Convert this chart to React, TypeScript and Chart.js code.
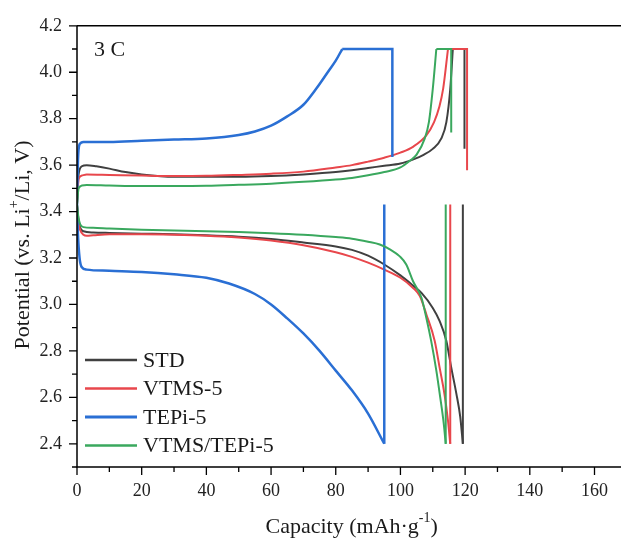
import React, { useEffect, useRef } from 'react';
import { Chart, registerables } from 'chart.js';

Chart.register(...registerables);

const FONT = '"Liberation Serif", "Times New Roman", serif';

// ---- Data (capacity in mAh/g, potential in V) ----
const stdChargeCap = [0, 0.5, 1.5, 3, 6, 10, 15, 20, 30, 40, 50, 60, 70, 80, 85, 90, 95, 100, 104, 107, 110, 112.6, 114.2, 115.4, 116.2, 119.8, 119.8];
const stdChargeV = [3.43, 3.56, 3.595, 3.6, 3.595, 3.585, 3.57, 3.56, 3.55, 3.55, 3.55, 3.553, 3.56, 3.57, 3.578, 3.588, 3.597, 3.607, 3.625, 3.643, 3.67, 3.714, 3.785, 3.928, 4.1, 4.1, 3.67];
const stdDischargeCap = [0, 0.5, 1, 2, 5, 10, 20, 30, 40, 50, 60, 70, 80, 85, 90, 95, 100, 104, 106.5, 110, 112.1, 114.2, 115.7, 117.3, 118.5, 119.3, 119.3];
const stdDischargeV = [3.43, 3.36, 3.33, 3.315, 3.31, 3.308, 3.305, 3.302, 3.298, 3.292, 3.282, 3.267, 3.25, 3.235, 3.21, 3.172, 3.125, 3.08, 3.05, 2.985, 2.929, 2.843, 2.729, 2.615, 2.515, 2.4, 3.43];

const vtmsChargeCap = [0, 0.5, 1.5, 3, 10, 20, 30, 40, 50, 60, 70, 80, 85, 90, 95, 100, 104, 108, 110.4, 112, 113.2, 114.7, 120.6, 120.6];
const vtmsChargeV = [3.43, 3.54, 3.555, 3.56, 3.558, 3.555, 3.553, 3.554, 3.558, 3.563, 3.572, 3.59, 3.6, 3.615, 3.632, 3.654, 3.68, 3.728, 3.785, 3.85, 3.928, 4.1, 4.1, 3.578];
const vtmsDischargeCap = [0, 0.5, 1, 2, 3, 5, 10, 20, 30, 40, 50, 60, 70, 80, 85, 90, 95, 100, 104, 106, 108, 110.6, 112.1, 113.6, 114.7, 115.4, 115.4];
const vtmsDischargeV = [3.43, 3.35, 3.32, 3.3, 3.296, 3.298, 3.302, 3.302, 3.3, 3.296, 3.288, 3.275, 3.255, 3.225, 3.205, 3.18, 3.15, 3.115, 3.07, 3.036, 2.958, 2.843, 2.729, 2.615, 2.5, 2.4, 3.43];

const tepiChargeCap = [0, 0.3, 0.8, 2, 10, 20, 30, 40, 50, 55, 60, 65, 70, 74, 78, 80, 82, 97.5, 97.5];
const tepiChargeV = [3.43, 3.62, 3.69, 3.7, 3.7, 3.705, 3.71, 3.715, 3.73, 3.745, 3.77, 3.81, 3.86, 3.93, 4.01, 4.05, 4.1, 4.1, 3.635];
const tepiDischargeCap = [0, 0.3, 0.8, 1.5, 3, 10, 20, 30, 40, 47, 55, 60, 65, 70, 75, 80, 85, 90, 95, 95];
const tepiDischargeV = [3.43, 3.3, 3.2, 3.16, 3.15, 3.145, 3.14, 3.13, 3.115, 3.09, 3.045, 3.0, 2.94, 2.875, 2.8, 2.715, 2.63, 2.53, 2.4, 3.43];

const mixChargeCap = [0, 0.5, 1.5, 3, 10, 20, 30, 40, 50, 60, 70, 80, 85, 90, 95, 100, 103, 105, 107.5, 108.8, 110, 111.1, 115.7, 115.7];
const mixChargeV = [3.43, 3.5, 3.512, 3.514, 3.512, 3.51, 3.51, 3.511, 3.515, 3.52, 3.528, 3.538, 3.545, 3.556, 3.57, 3.59, 3.62, 3.645, 3.714, 3.785, 3.928, 4.1, 4.1, 3.74];
const mixDischargeCap = [0, 0.5, 1, 2, 5, 10, 20, 30, 40, 50, 60, 70, 80, 85, 90, 93.6, 97, 99.8, 101.8, 103.9, 106.5, 108, 109.5, 111.1, 112.3, 113.4, 114, 114];
const mixDischargeV = [3.43, 3.37, 3.345, 3.333, 3.33, 3.327, 3.322, 3.318, 3.315, 3.312, 3.307, 3.3, 3.29, 3.283, 3.27, 3.258, 3.235, 3.207, 3.172, 3.1, 3.029, 2.943, 2.843, 2.715, 2.6, 2.486, 2.4, 3.43];

const seriesLabels = ['STD', 'VTMS-5', 'TEPi-5', 'VTMS/TEPi-5'];
const seriesCharge = [
  [stdChargeCap, stdChargeV],
  [vtmsChargeCap, vtmsChargeV],
  [tepiChargeCap, tepiChargeV],
  [mixChargeCap, mixChargeV],
];
const seriesDischarge = [
  [stdDischargeCap, stdDischargeV],
  [vtmsDischargeCap, vtmsDischargeV],
  [tepiDischargeCap, tepiDischargeV],
  [mixDischargeCap, mixDischargeV],
];
const rateLabel = '3 C';

// ---- Styles ----
const seriesColors = ['#404040', '#e8474c', '#2a6fd4', '#3aa85e'];
const seriesWidths = [2, 2, 2.5, 2];

type Seg = { t: string; sup?: boolean };

function drawRich(ctx: CanvasRenderingContext2D, segs: Seg[], cx: number, cy: number, rot: number, size: number) {
  const supSize = Math.round(size * 0.62);
  ctx.save();
  ctx.translate(cx, cy);
  ctx.rotate(rot);
  ctx.textBaseline = 'middle';
  ctx.textAlign = 'left';
  let total = 0;
  const widths = segs.map((s) => {
    ctx.font = `${s.sup ? supSize : size}px ${FONT}`;
    const w = ctx.measureText(s.t).width;
    total += w;
    return w;
  });
  let x = -total / 2;
  segs.forEach((s, i) => {
    ctx.font = `${s.sup ? supSize : size}px ${FONT}`;
    ctx.fillText(s.t, x, s.sup ? -size * 0.38 : 0);
    x += widths[i];
  });
  ctx.restore();
}

const decorPlugin = {
  id: 'decor',
  afterDraw(chart: any) {
    const ctx: CanvasRenderingContext2D = chart.ctx;
    const { left, right, top, bottom } = chart.chartArea;
    const xs = chart.scales.x;
    const ys = chart.scales.y;
    ctx.save();
    ctx.strokeStyle = '#000';
    ctx.lineWidth = 1.5;
    ctx.beginPath();
    ctx.moveTo(left, top);
    ctx.lineTo(right + 2, top);
    ctx.moveTo(left, top);
    ctx.lineTo(left, bottom);
    ctx.lineTo(right + 2, bottom);
    ctx.stroke();
    // tick marks
    ctx.lineWidth = 1.3;
    ctx.beginPath();
    xs.ticks.forEach((t: any) => {
      const px = xs.getPixelForValue(t.value);
      const major = Math.round(t.value) % 20 === 0;
      ctx.moveTo(px, bottom);
      ctx.lineTo(px, bottom + (major ? 8 : 5));
    });
    ys.ticks.forEach((t: any) => {
      const py = ys.getPixelForValue(t.value);
      const major = Math.round(t.value * 10) % 2 === 0;
      ctx.moveTo(left, py);
      ctx.lineTo(left - (major ? 8 : 5), py);
    });
    ctx.stroke();
    ctx.fillStyle = '#1a1a1a';
    // axis titles
    drawRich(ctx, [{ t: 'Capacity (mAh·g' }, { t: '-1', sup: true }, { t: ')' }], (left + right) / 2 + 3, 527, 0, 22);
    drawRich(ctx, [{ t: 'Potential (vs. Li' }, { t: '+', sup: true }, { t: '/Li, V)' }], 23, 245, -Math.PI / 2, 22);
    // rate label
    ctx.font = `22px ${FONT}`;
    ctx.textBaseline = 'middle';
    ctx.textAlign = 'left';
    ctx.fillText(rateLabel, left + 17, 50);
    // legend
    const rowY = [360, 388.5, 417, 445.5];
    seriesLabels.forEach((lab, i) => {
      ctx.strokeStyle = seriesColors[i];
      ctx.lineWidth = seriesWidths[i] + 0.5;
      ctx.beginPath();
      ctx.moveTo(left + 8, rowY[i]);
      ctx.lineTo(left + 60, rowY[i]);
      ctx.stroke();
      ctx.fillStyle = '#1a1a1a';
      ctx.fillText(lab, left + 66, rowY[i] + 1);
    });
    ctx.restore();
  },
};

export default function App() {
  const ref = useRef<HTMLCanvasElement>(null);
  useEffect(() => {
    if (!ref.current) return;
    const datasets: any[] = [];
    const base = (i: number) => ({
      borderColor: seriesColors[i],
      backgroundColor: seriesColors[i],
      borderWidth: seriesWidths[i],
      pointRadius: 0,
      fill: false,
      order: 4 - i,
    });
    seriesLabels.forEach((lab, i) => {
      [seriesCharge[i], seriesDischarge[i]].forEach(([caps, vs], k) => {
        const pts = caps.map((c, j) => ({ x: c, y: vs[j] }));
        const extreme = k === 0 ? Math.max(...vs) : Math.min(...vs);
        const split = vs.indexOf(extreme);
        // smooth electrochemical curve
        datasets.push({
          ...base(i),
          label: `${lab} ${k === 0 ? 'charge' : 'discharge'}`,
          data: pts.slice(0, split + 1),
          cubicInterpolationMode: 'monotone',
          tension: 0.4,
        });
        // constant-voltage step / relaxation (straight segments)
        datasets.push({
          ...base(i),
          label: `${lab} ${k === 0 ? 'charge' : 'discharge'} rest`,
          data: pts.slice(split),
          tension: 0,
          borderJoinStyle: 'miter',
        });
      });
    });
    const chart = new Chart(ref.current, {
      type: 'line',
      data: { datasets },
      plugins: [decorPlugin],
      options: {
        animation: false,
        responsive: true,
        maintainAspectRatio: false,
        layout: { padding: { top: 23, right: 0, left: 0, bottom: 0 } },
        plugins: { legend: { display: false }, tooltip: { enabled: false } },
        scales: {
          x: {
            type: 'linear',
            min: 0,
            max: 168,
            grid: { display: false, drawTicks: false },
            border: { display: false },
            afterFit: (s: any) => { s.height = 75; },
            ticks: {
              stepSize: 10,
              includeBounds: false,
              autoSkip: false,
              maxRotation: 0,
              padding: 13,
              color: '#222',
              font: { family: FONT, size: 18 },
              callback: (v: any) => (Math.round(v) % 20 === 0 ? String(Math.round(v)) : ''),
            },
          },
          y: {
            type: 'linear',
            min: 2.3,
            max: 4.2,
            grid: { display: false, drawTicks: false },
            border: { display: false },
            afterFit: (s: any) => { s.width = 77; },
            ticks: {
              stepSize: 0.1,
              autoSkip: false,
              padding: 15,
              color: '#222',
              font: { family: FONT, size: 18 },
              callback: (v: any) => {
                const n = Math.round(v * 10);
                return n % 2 === 0 && n >= 24 ? (n / 10).toFixed(1) : '';
              },
            },
          },
        },
      },
    });
    return () => chart.destroy();
  }, []);
  return (
    <div style={{ position: 'fixed', left: 0, top: 0, width: 621, height: 542, background: '#fff' }}>
      <canvas ref={ref} />
    </div>
  );
}
